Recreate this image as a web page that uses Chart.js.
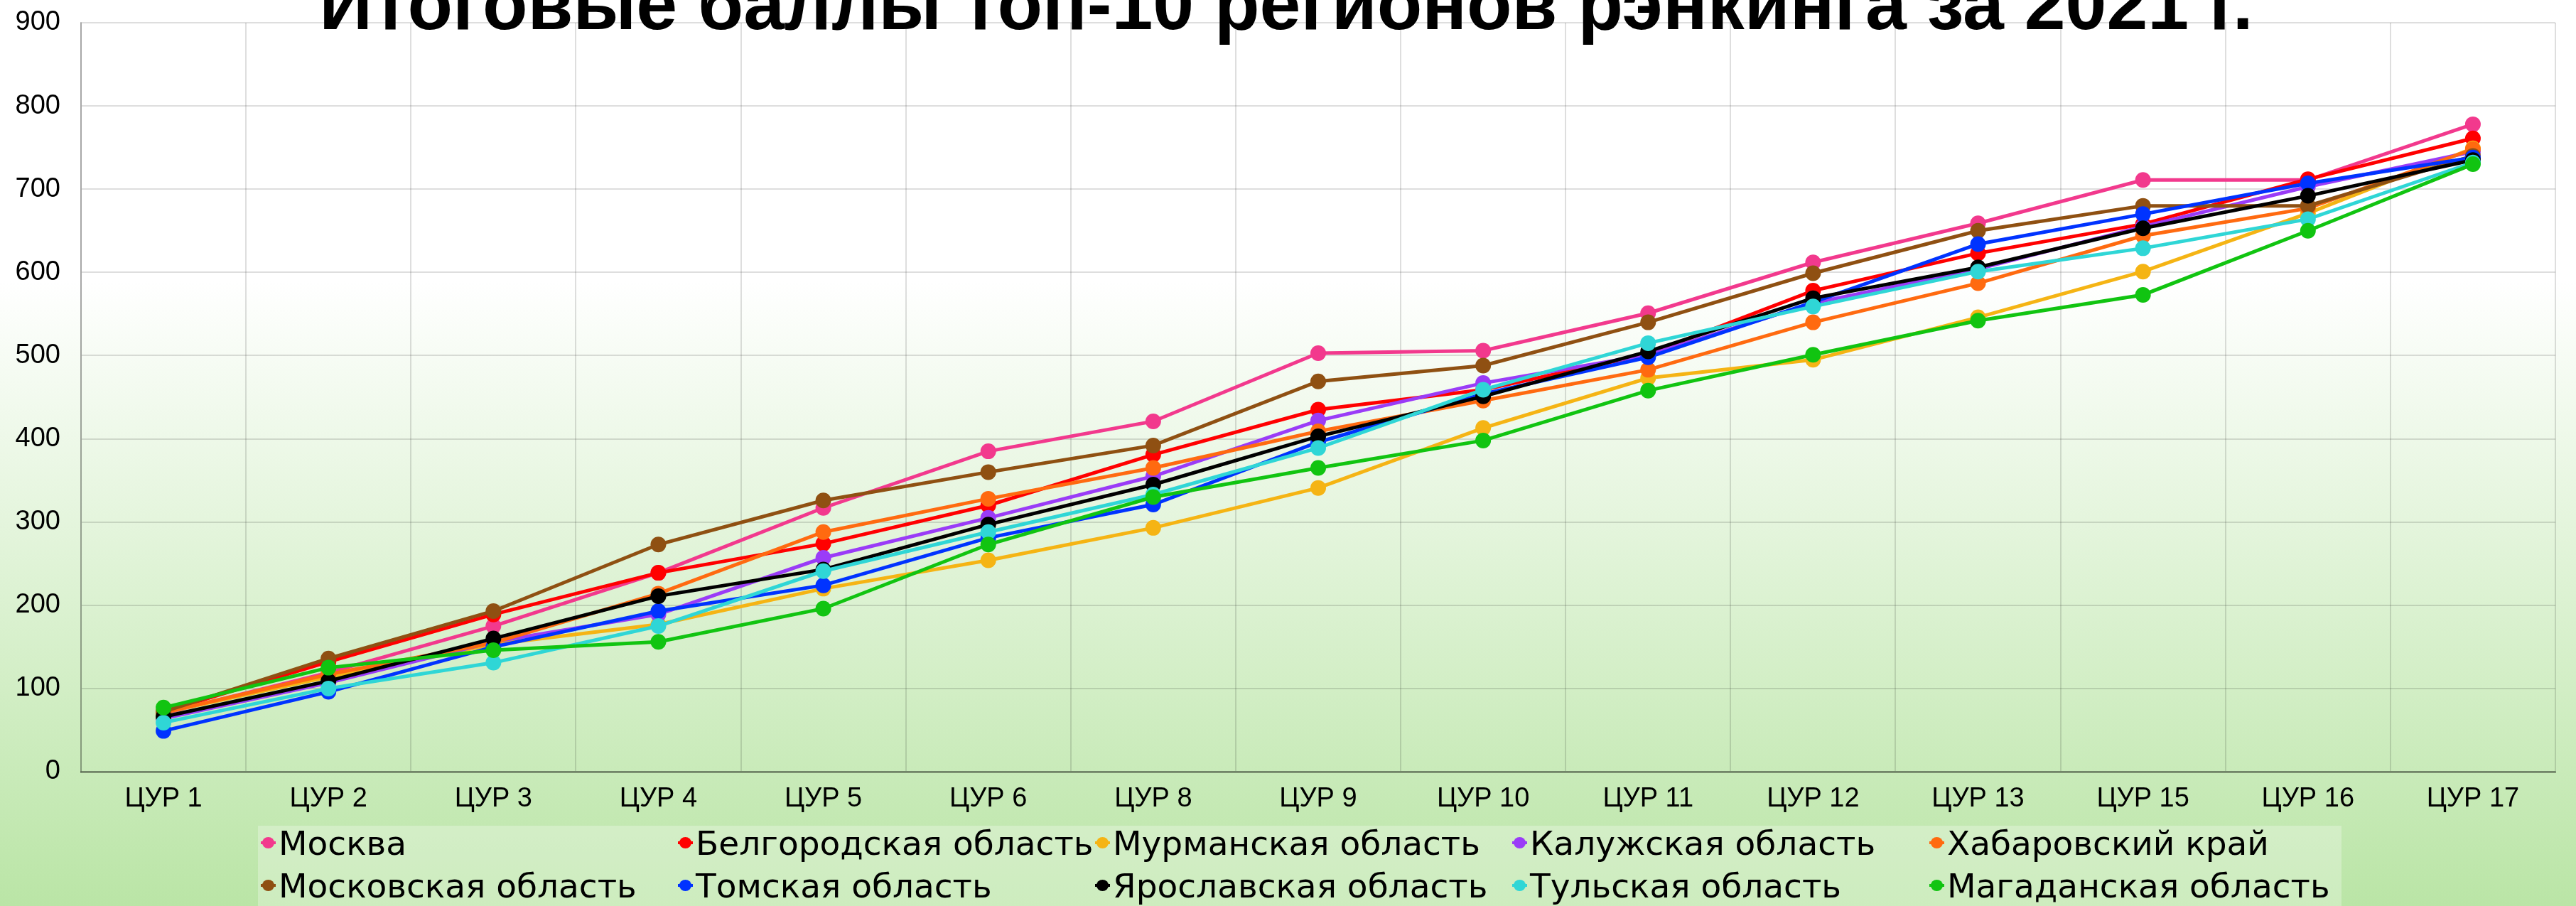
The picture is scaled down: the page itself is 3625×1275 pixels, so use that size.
<!DOCTYPE html>
<html lang="ru">
<head>
<meta charset="utf-8">
<title>Итоговые баллы топ-10 регионов</title>
<script src="https://cdn.jsdelivr.net/npm/chart.js@4/dist/chart.umd.min.js"></script>
<style>
  html, body {
    margin: 0;
    padding: 0;
    width: 3625px;
    height: 1275px;
    overflow: hidden;
    font-family: "Liberation Sans", Arial, sans-serif;
    background: linear-gradient(to bottom, #ffffff 0%, #ffffff 31%, #bae5a6 100%);
  }
  #wrap { position: relative; width: 3625px; height: 1275px; }
  #legend-box {
    position: absolute; left: 363px; top: 1162px; width: 2932px; height: 113px;
    background: rgba(255, 255, 255, 0.28);
  }
  #legend {
    position: absolute; left: 367px; top: 1163px;
    display: grid; grid-template-columns: repeat(5, 587px); grid-auto-rows: 60px;
  }
  .item {
    position: relative; white-space: nowrap; padding-left: 25px;
    font-family: "DejaVu Sans", sans-serif; font-size: 47px; line-height: 47px; color: #000;
  }
  .mk {
    position: absolute; left: 0; top: 14px; width: 21px; height: 18px;
  }
  .mk::before {
    content: ""; position: absolute; left: 0; right: 0; top: 7px; height: 4px;
    background: var(--c);
  }
  .mk::after {
    content: ""; position: absolute; left: 2px; top: 1px; width: 17px; height: 16px;
    border-radius: 50%; background: var(--c);
  }
</style>
</head>
<body>
<div id="wrap">
  <canvas id="chart"></canvas>
  <div id="legend-box"></div>
  <div id="legend"></div>
</div>
<script>
// Chart data
const categories = ['ЦУР 1', 'ЦУР 2', 'ЦУР 3', 'ЦУР 4', 'ЦУР 5', 'ЦУР 6', 'ЦУР 8', 'ЦУР 9',
  'ЦУР 10', 'ЦУР 11', 'ЦУР 12', 'ЦУР 13', 'ЦУР 15', 'ЦУР 16', 'ЦУР 17'];

const moscow      = [70, 119, 175, 239, 317, 385, 421, 503, 506, 551, 612, 659, 711, 711, 778];
const belgorod    = [72, 132, 189, 239, 274, 320, 381, 435, 459, 502, 578, 623, 658, 712, 761];
const murmansk    = [71, 114, 153, 177, 220, 254, 293, 341, 413, 473, 495, 546, 601, 671, 749];
const kaluga      = [64, 107, 156, 189, 257, 305, 355, 422, 467, 501, 563, 604, 655, 703, 745];
const khabarovsk  = [71, 117, 155, 214, 288, 328, 365, 409, 446, 483, 540, 587, 644, 677, 748];
const moscowObl   = [72, 136, 193, 273, 326, 360, 392, 469, 488, 540, 599, 650, 680, 680, 740];
const tomsk       = [49, 96, 150, 193, 224, 281, 321, 396, 454, 498, 564, 634, 670, 707, 738];
const yaroslavl   = [66, 109, 160, 211, 243, 297, 345, 403, 451, 505, 569, 606, 653, 692, 735];
const tula        = [59, 100, 131, 175, 241, 288, 333, 389, 459, 515, 559, 601, 629, 664, 732];
const magadan     = [77, 125, 146, 156, 196, 273, 330, 365, 398, 458, 501, 542, 573, 650, 730];

const regionNames = ['Москва', 'Белгородская область', 'Мурманская область', 'Калужская область',
  'Хабаровский край', 'Московская область', 'Томская область', 'Ярославская область',
  'Тульская область', 'Магаданская область'];
const regionValues = [moscow, belgorod, murmansk, kaluga, khabarovsk, moscowObl, tomsk, yaroslavl, tula, magadan];
const regionColors = ['#f2398d', '#ff0000', '#f5b414', '#9a3cf7', '#ff6a10',
  '#8f5012', '#0033ff', '#000000', '#2fd6d6', '#11c411'];

const yTicks = [0, 100, 200, 300, 400, 500, 600, 700, 800, 900];
const chartTitle = 'Итоговые баллы топ-10 регионов рэнкинга за 2021 г.';

// where the plot area sits in the picture
const target = { left: 114, top: 32, right: 3596, bottom: 1086 };

const titlePlugin = {
  id: 'topTitle',
  afterDraw(chart) {
    const ctx = chart.ctx;
    ctx.save();
    ctx.font = 'bold 104px "Liberation Sans", Arial, sans-serif';
    ctx.fillStyle = '#000';
    ctx.textAlign = 'center';
    ctx.textBaseline = 'alphabetic';
    ctx.fillText(chartTitle, 1810, 41);
    ctx.restore();
  }
};

const canvas = document.getElementById('chart');
canvas.width = 3625;
canvas.height = 1275;

let pad = { left: 22, right: 29, top: 32, bottom: 128 };

const chart = new Chart(canvas.getContext('2d'), {
  type: 'line',
  data: {
    labels: categories,
    datasets: regionNames.map((name, i) => ({
      label: name,
      data: regionValues[i],
      borderColor: regionColors[i],
      backgroundColor: regionColors[i],
      pointBackgroundColor: regionColors[i],
      pointBorderColor: regionColors[i],
      borderWidth: 5,
      pointRadius: 11,
      pointBorderWidth: 0,
      tension: 0,
      fill: false,
      order: -i
    }))
  },
  options: {
    responsive: false,
    animation: false,
    devicePixelRatio: 1,
    layout: { padding: pad, autoPadding: false },
    plugins: {
      legend: { display: false },
      title: { display: false },
      tooltip: { enabled: false }
    },
    scales: {
      x: {
        offset: true,
        grid: {
          offset: true,
          color: 'rgba(0,0,0,0.13)',
          lineWidth: 2,
          drawTicks: false
        },
        border: { color: 'rgba(0,0,0,0.35)', width: 3 },
        ticks: {
          color: '#000',
          padding: 16,
          maxRotation: 0,
          font: { family: '"Liberation Sans", Arial, sans-serif', size: 38 }
        }
      },
      y: {
        min: 0,
        max: 900,
        afterBuildTicks(axis) {
          axis.ticks = yTicks.map(v => ({ value: v }));
        },
        grid: {
          color: 'rgba(0,0,0,0.13)',
          lineWidth: 2,
          drawTicks: true,
          tickLength: 29,
          tickColor: 'rgba(0,0,0,0)'
        },
        border: { color: 'rgba(0,0,0,0.25)', width: 2 },
        ticks: {
          color: '#000',
          padding: 0,
          font: { family: '"Liberation Sans", Arial, sans-serif', size: 38 }
        }
      }
    }
  },
  plugins: [titlePlugin]
});

// nudge the layout padding so the plot area lands where it is in the reference
function fitArea() {
  const a = chart.chartArea;
  pad = {
    left: pad.left + (target.left - a.left),
    top: pad.top + (target.top - a.top),
    right: pad.right + (a.right - target.right),
    bottom: pad.bottom + (a.bottom - target.bottom)
  };
  chart.options.layout.padding = pad;
  chart.update();
}
fitArea();
fitArea();

// HTML legend built from the chart datasets
const legend = document.getElementById('legend');
chart.data.datasets.forEach(ds => {
  const item = document.createElement('div');
  item.className = 'item';
  const mk = document.createElement('span');
  mk.className = 'mk';
  mk.style.setProperty('--c', ds.borderColor);
  item.appendChild(mk);
  item.appendChild(document.createTextNode(ds.label));
  legend.appendChild(item);
});
</script>
</body>
</html>
